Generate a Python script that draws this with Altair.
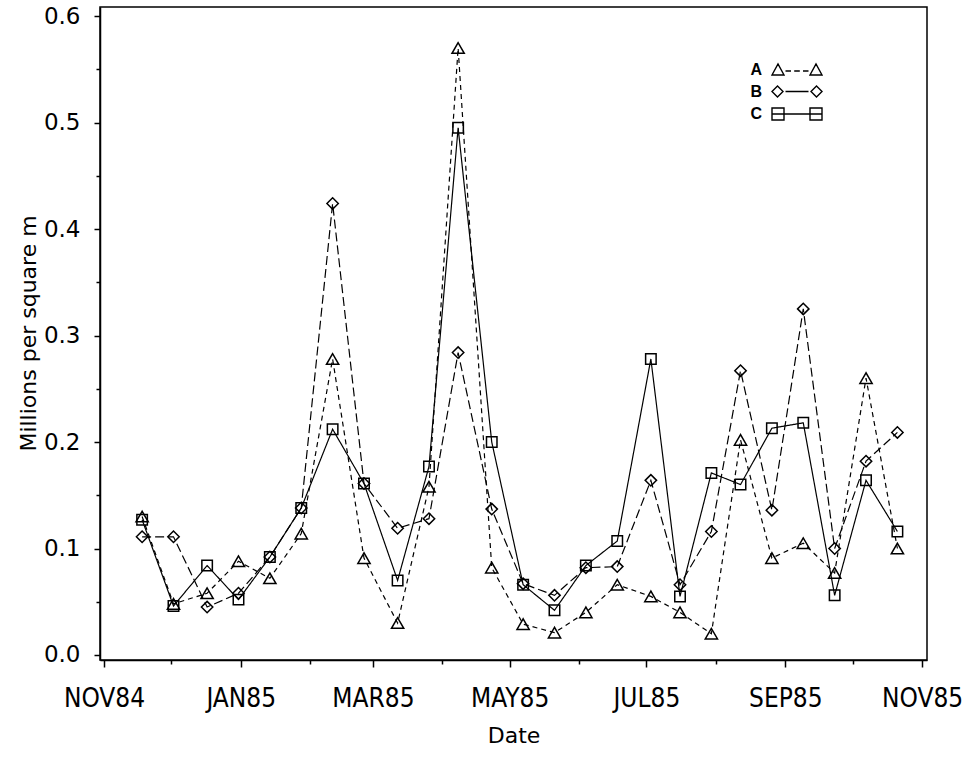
import altair as alt
import pandas as pd

dates = ["1984-11-18", "1984-12-02", "1984-12-17", "1984-12-31", "1985-01-14",
         "1985-01-28", "1985-02-11", "1985-02-25", "1985-03-12", "1985-03-26",
         "1985-04-08", "1985-04-23", "1985-05-07", "1985-05-21", "1985-06-04",
         "1985-06-18", "1985-07-03", "1985-07-16", "1985-07-30", "1985-08-12",
         "1985-08-26", "1985-09-09", "1985-09-23", "1985-10-07", "1985-10-21"]

series_a = [0.130, 0.048, 0.058, 0.088, 0.072, 0.114, 0.278, 0.091, 0.030, 0.158,
            0.570, 0.082, 0.029, 0.021, 0.040, 0.066, 0.055, 0.040, 0.020, 0.202,
            0.091, 0.105, 0.077, 0.260, 0.100]
series_b = [0.111, 0.111, 0.045, 0.058, 0.092, 0.138, 0.424, 0.161, 0.119, 0.128,
            0.284, 0.137, 0.067, 0.056, 0.082, 0.083, 0.164, 0.066, 0.116, 0.267,
            0.136, 0.325, 0.100, 0.182, 0.209]
series_c = [0.127, 0.046, 0.084, 0.052, 0.092, 0.138, 0.212, 0.161, 0.070, 0.177,
            0.495, 0.200, 0.066, 0.042, 0.084, 0.107, 0.278, 0.055, 0.171, 0.160,
            0.213, 0.218, 0.056, 0.164, 0.116]
names = ["A", "B", "C"]

y_ticks = [round(i * 0.05, 2) for i in range(13)]
month_ticks = [(1984, 11), (1984, 12)] + [(1985, m) for m in range(1, 12)]

df = pd.DataFrame({
    "date": dates * 3,
    "value": series_a + series_b + series_c,
    "series": [names[0]] * len(dates) + [names[1]] * len(dates) + [names[2]] * len(dates),
})

# legend symbols: marker - line - marker (custom SVG paths)
path_a = ("M-2.5,0.5L-1.9,-0.6L-1.3,0.5Z M1.3,0.5L1.9,-0.6L2.5,0.5Z "
          "M-1.15,0.1H-0.6M-0.28,0.1H0.28M0.6,0.1H1.15")
path_b = ("M-2.5,0L-1.95,-0.55L-1.4,0L-1.95,0.55Z M1.4,0L1.95,-0.55L2.5,0L1.95,0.55Z "
          "M-1.15,0H1.15")
path_c = "M-2.5,-0.6H-1.3V0.6H-2.5Z M1.3,-0.6H2.5V0.6H1.3Z M-2.5,0H2.5"

x_enc = alt.X(
    "date:T",
    scale=alt.Scale(type="utc", domain=[
        alt.DateTime(year=1984, month=10, date=30, hours=5, utc=True),
        alt.DateTime(year=1985, month=11, date=3, hours=5, utc=True)]),
    axis=alt.Axis(
        values=[alt.DateTime(year=y, month=m, date=1, utc=True) for y, m in month_ticks],
        labelExpr="utcmonth(datum.value) % 2 == 0 ? upper(utcFormat(datum.value, '%b%y')) : ''",
        tickSize={"condition": {"test": "utcmonth(datum.value) % 2 == 0", "value": 7}, "value": 4},
        labelPadding=18,
        labelFont="Liberation Sans Narrow, DejaVu Sans Condensed, Liberation Sans",
        labelFontSize=26,
        labelAngle=0,
        labelOverlap=False,
        labelFlush=False,
        title="Date",
        titleFont="DejaVu Sans",
        titleFontSize=22,
        titleFontWeight="normal",
        titleY=75,
        titleBaseline="middle",
        grid=False,
    ),
)

y_enc = alt.Y(
    "value:Q",
    scale=alt.Scale(domain=[-0.0047, 0.6085], nice=False, zero=False),
    axis=alt.Axis(
        values=y_ticks,
        labelExpr="round(datum.value * 20) % 2 == 0 ? format(datum.value, '.1f') : ''",
        tickSize={"condition": {"test": "round(datum.value * 20) % 2 == 0", "value": 6}, "value": 4},
        labelPadding=14,
        labelFont="DejaVu Sans",
        labelFontSize=23,
        labelOverlap=False,
        labelFlush=False,
        title="Millions per square m",
        titleFont="DejaVu Sans",
        titleFontSize=22,
        titleFontWeight="normal",
        titleX=-72,
        titleY=326,
        titleBaseline="middle",
        grid=False,
    ),
)

lines = alt.Chart(df).mark_line(color="black", strokeWidth=1.2).encode(
    x=x_enc, y=y_enc,
    strokeDash=alt.StrokeDash("series:N", scale=alt.Scale(domain=names, range=[[5, 4], [9, 4], [1, 0]]), legend=None),
    detail="series:N",
)

points = alt.Chart(df).mark_point(filled=False, color="black", strokeWidth=1.5, opacity=1).encode(
    x=x_enc, y=y_enc,
    shape=alt.Shape("series:N", scale=alt.Scale(domain=names, range=["triangle-up", "diamond", "square"]), legend=None),
    size=alt.Size("series:N", scale=alt.Scale(domain=names, range=[150, 110, 170]), legend=None),
)

legend_layer = alt.Chart(df).mark_point(filled=False, color="black", strokeWidth=1.3, opacity=1).encode(
    x=x_enc, y=y_enc,
    shape=alt.Shape("series:N", scale=alt.Scale(domain=names, range=[path_a, path_b, path_c]),
                    legend=alt.Legend(
                        title=None, orient="none", legendX=686, legendY=52, padding=0,
                        symbolSize=400, symbolStrokeColor="black", symbolStrokeWidth=1.4,
                        labelFont="Liberation Sans", labelFontWeight="bold", labelFontSize=16,
                        labelColor="black", labelAlign="right",
                        labelOffset={"expr": "-46"}, rowPadding=2.5,
                    )),
).transform_filter("false")

chart = alt.layer(lines, points, legend_layer).resolve_scale(shape="independent").properties(
    width=827, height=653,
    background="white",
    autosize=alt.AutoSizeParams(type="none"),
    padding={"left": 100, "top": 7, "right": 46, "bottom": 113},
).configure_view(stroke="black", strokeWidth=1.5).configure_axis(
    grid=False, domainColor="black", domainWidth=1.5, tickColor="black", tickWidth=1.5,
    labelColor="black", titleColor="black",
)

chart.save("out.html", embed_options={"renderer": "svg", "actions": False})
